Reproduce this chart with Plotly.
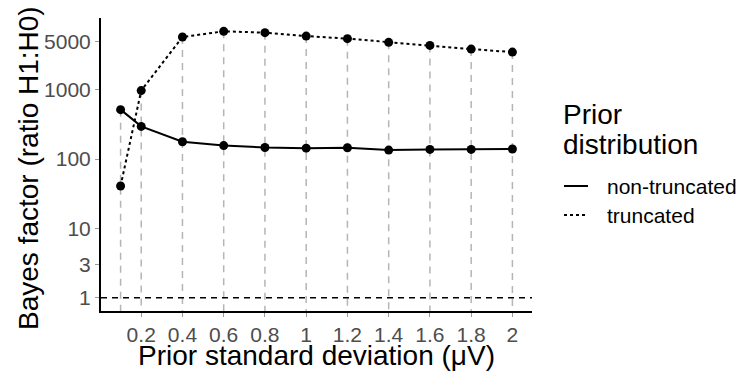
import numpy as np
import plotly.graph_objects as go

# Prior standard deviations (µV)
prior_sd = [0.1, 0.2, 0.4, 0.6, 0.8, 1.0, 1.2, 1.4, 1.6, 1.8, 2.0]

# Bayes factors (H1:H0) for each prior
bf_non_truncated = [518, 297, 178, 157, 147, 144, 146, 135, 138, 138, 140]
bf_truncated = [41, 977, 5785, 7000, 6700, 5980, 5485, 4850, 4385, 3875, 3508]

x_tick_vals = [0.2, 0.4, 0.6, 0.8, 1.0, 1.2, 1.4, 1.6, 1.8, 2.0]
x_tick_text = ["0.2", "0.4", "0.6", "0.8", "1", "1.2", "1.4", "1.6", "1.8", "2"]
y_tick_vals = [1, 3, 10, 100, 1000, 5000]
y_tick_text = ["1", "3", "10", "100", "1000", "5000"]
reference_bf = 1

legend_title = ["Prior", "distribution"]
series_names = ["non-truncated", "truncated"]
series_dash = ["solid", "3px,3px"]

FONT = "Liberation Sans, Arial, sans-serif"
W, H = 741, 371
ML, MR, MT, MB = 101, 209, 18, 60
PW, PH = W - ML - MR, H - MT - MB


def px_x(px):
    """Horizontal pixel position -> paper coordinate."""
    return (px - ML) / PW


def px_y(py):
    """Vertical pixel position (from top) -> paper coordinate."""
    return (H - MB - py) / PH


# axis ranges with 5% padding on each side (log scale for y)
x_lo, x_hi = min(prior_sd), max(prior_sd)
x_pad = 0.05 * (x_hi - x_lo)
x_range = [x_lo - x_pad, x_hi + x_pad]
all_bf = bf_non_truncated + bf_truncated + [reference_bf]
ly_lo, ly_hi = np.log10(min(all_bf)), np.log10(max(all_bf))
ly_pad = 0.05 * (ly_hi - ly_lo)
y_range = [ly_lo - ly_pad, ly_hi + ly_pad]
y_bottom = 10 ** y_range[0]

fig = go.Figure()

# grey guide lines from the upper point of each prior down to the axis
gx, gy = [], []
for x, a, b in zip(prior_sd, bf_non_truncated, bf_truncated):
    gx += [x, x, None]
    gy += [max(a, b), y_bottom, None]
fig.add_trace(go.Scatter(
    x=gx, y=gy, mode="lines", showlegend=False, hoverinfo="skip",
    line=dict(color="#b5b5b5", width=1.5, dash="7px,6px"),
))

# reference line at BF = 1
fig.add_trace(go.Scatter(
    x=x_range, y=[reference_bf, reference_bf], mode="lines",
    showlegend=False, hoverinfo="skip",
    line=dict(color="black", width=1.5, dash="6px,5px"),
))

for name, series, dash in zip(series_names, [bf_non_truncated, bf_truncated], series_dash):
    fig.add_trace(go.Scatter(
        x=prior_sd, y=series, mode="lines", name=name, showlegend=False,
        line=dict(color="black", width=2, dash=dash),
    ))
    fig.add_trace(go.Scatter(
        x=prior_sd, y=series, mode="markers", showlegend=False,
        marker=dict(color="black", size=9),
    ))

axis_common = dict(
    showgrid=False, zeroline=False,
    showline=True, linecolor="black", linewidth=2,
    ticks="outside", ticklen=4, tickcolor="#9a9a9a", tickwidth=1,
    tickfont=dict(size=21, color="#4d4d4d", family=FONT),
)

annotations = [
    dict(text="Prior standard deviation (μV)", xref="paper", yref="paper",
         x=0.5, y=px_y(355), xanchor="center", yanchor="middle", showarrow=False,
         font=dict(size=28, family=FONT)),
    dict(text="Bayes factor (ratio H1:H0)", xref="paper", yref="paper",
         x=px_x(28), y=px_y(168), xanchor="center", yanchor="middle", showarrow=False,
         textangle=-90, font=dict(size=28, family=FONT)),
]
# legend heading, two lines
for i, line in enumerate(legend_title):
    annotations.append(dict(
        text=line, xref="paper", yref="paper", x=px_x(561), y=px_y(114 + 30 * i),
        xanchor="left", yanchor="middle", showarrow=False,
        font=dict(size=28, family=FONT)))

# legend keys: line sample + label
shapes = []
for i, (name, dash) in enumerate(zip(series_names, series_dash)):
    ky = px_y(186 + 29 * i)
    shapes.append(dict(type="line", xref="paper", yref="paper",
                       x0=px_x(564), x1=px_x(588), y0=ky, y1=ky,
                       line=dict(color="black", width=2, dash=dash)))
    annotations.append(dict(
        text=name, xref="paper", yref="paper", x=px_x(605), y=ky,
        xanchor="left", yanchor="middle", showarrow=False,
        font=dict(size=21, family=FONT)))

fig.update_layout(
    width=W, height=H,
    margin=dict(l=ML, r=MR, t=MT, b=MB),
    paper_bgcolor="white", plot_bgcolor="white",
    font=dict(family=FONT, color="black"),
    showlegend=False,
    xaxis=dict(range=x_range, tickvals=x_tick_vals, ticktext=x_tick_text, **axis_common),
    yaxis=dict(type="log", range=y_range, tickvals=y_tick_vals, ticktext=y_tick_text,
               **axis_common),
    annotations=annotations,
    shapes=shapes,
)

fig.write_html("out.html")
